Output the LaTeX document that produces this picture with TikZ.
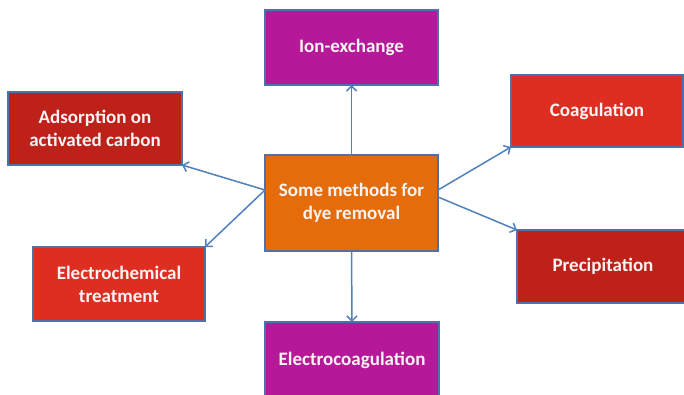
\documentclass[tikz,border=0pt]{standalone}
\usepackage{fontspec}
\setmainfont{Carlito}
\usetikzlibrary{arrows.meta}
\definecolor{boxedge}{RGB}{79,112,170}
\definecolor{arrowblue}{RGB}{79,129,189}
\definecolor{magentabox}{RGB}{181,24,152}
\definecolor{darkred}{RGB}{190,32,26}
\definecolor{brightred}{RGB}{222,46,34}
\definecolor{orangebox}{RGB}{228,108,10}
\definecolor{offwhite}{RGB}{248,244,244}
\begin{document}
\begin{tikzpicture}[x=1pt,y=-1pt,
  box/.style={draw=boxedge, line width=1.3pt, text=offwhite,
    font=\fontsize{19}{23}\selectfont\bfseries, align=center, inner sep=0pt, outer sep=0pt},
  arr/.style={draw=arrowblue, line width=1.5pt, -{Straight Barb[length=5pt,width=10pt]}}]
\clip (0,0) rectangle (684,394);
\fill[white] (0,0) rectangle (684,394);
\node[box, fill=magentabox, minimum width=173pt, minimum height=75pt] (ion) at (351.5,47.5) {Ion-exchange};
\node[box, fill=darkred, minimum width=174pt, minimum height=73pt] (ads) at (95,128.5) {Adsorption on\\activated carbon};
\node[box, fill=brightred, minimum width=172pt, minimum height=72pt] (coa) at (597,111) {Coagulation};
\node[box, fill=orangebox, minimum width=173pt, minimum height=96pt] (cen) at (351.5,203) {Some methods for\\dye removal};
\node[box, fill=brightred, minimum width=172pt, minimum height=74pt] (ech) at (119,284) {Electrochemical\\treatment};
\node[box, fill=darkred, minimum width=172pt, minimum height=73pt] (pre) at (603,266.5) {Precipitation};
\node[box, fill=magentabox, minimum width=174pt, minimum height=76pt] (elc) at (352,360) {Electrocoagulation};
\draw[arr] (cen.north) -- (ion.south);
\draw[arr] (cen.south) -- (elc.north);
\draw[arr] ([yshift=13pt]cen.west) -- (ads.south east);
\draw[arr] ([yshift=13pt]cen.west) -- (ech.north east);
\draw[arr] ([yshift=13pt]cen.east) -- (coa.south west);
\draw[arr] ([yshift=6pt]cen.east) -- (pre.north west);
\end{tikzpicture}
\end{document}
